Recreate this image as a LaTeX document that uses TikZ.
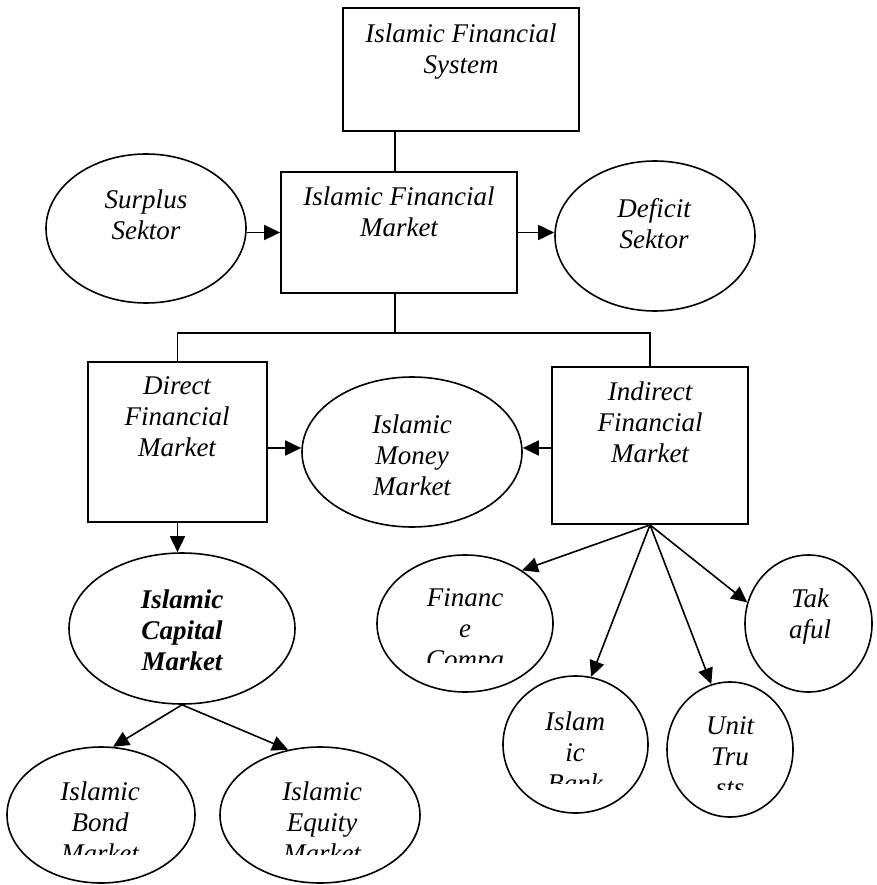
\documentclass[tikz,border=0pt]{standalone}
\usepackage{fontspec}
\setmainfont{Liberation Serif}
\usetikzlibrary{arrows.meta,shapes.geometric}
\begin{document}
\begin{tikzpicture}[x=1pt,y=-1pt,
  box/.style={draw, line width=1.8pt, rectangle, inner sep=0pt},
  ell/.style={draw, line width=1.6pt, ellipse, inner sep=0pt},
  txt/.style={anchor=north, inner sep=0pt, align=center, font=\fontsize{27}{31}\selectfont\itshape, execute at begin node=\strut},
  btxt/.style={txt, font=\fontsize{27}{31}\selectfont\bfseries\itshape},
  link/.style={line width=1.5pt},
  arr/.style={line width=1.6pt, -{Triangle[length=16pt,width=15pt]}}]
\useasboundingbox (0,0) rectangle (876,885);

% shapes
\node[box, minimum width=236pt, minimum height=123pt] (sys) at (461,69.5) {};
\node[box, minimum width=236pt, minimum height=121pt] (mkt) at (399,232.5) {};
\node[ell, minimum width=200pt, minimum height=149pt] (sur) at (146,228.5) {};
\node[ell, minimum width=200pt, minimum height=150pt] (def) at (655,236) {};
\node[box, minimum width=179pt, minimum height=160pt] (dir) at (177.5,442) {};
\node[box, minimum width=196pt, minimum height=157pt] (ind) at (650,445.5) {};
\node[ell, minimum width=220pt, minimum height=150pt] (mon) at (412,452) {};
\node[ell, minimum width=226pt, minimum height=151pt] (cap) at (182,628.5) {};
\node[ell, minimum width=188pt, minimum height=136pt] (bond) at (101,815) {};
\node[ell, minimum width=200pt, minimum height=136pt] (eq) at (320,815) {};
\node[ell, minimum width=176pt, minimum height=137pt] (fin) at (465,623.5) {};
\node[ell, minimum width=127pt, minimum height=137pt] (tak) at (808.5,623.5) {};
\node[ell, minimum width=145pt, minimum height=137pt] (bank) at (575.5,744.5) {};
\node[ell, minimum width=126pt, minimum height=135pt] (ut) at (730,749.5) {};

% texts
\node[txt] (syst) at (461,23.3) {Islamic Financial\\System};
\node[txt] (mktt) at (399,186.3) {Islamic Financial\\Market};
\node[txt] (surt) at (146,189.3) {Surplus\\Sektor};
\node[txt] (deft) at (654,198.3) {Deficit\\Sektor};
\node[txt] (dirt) at (177,376.3) {Direct\\Financial\\Market};
\node[txt] (indt) at (650,381.3) {Indirect\\Financial\\Market};
\node[txt] (mont) at (412,414.3) {Islamic\\Money\\Market};
\node[btxt] (capt) at (182,589.3) {Islamic\\Capital\\Market};
\node[txt] (takt) at (810,588.3) {Tak\\aful};
\begin{scope}
  \clip (377,555) rectangle (553,662);
  \node[txt] (fint) at (465,588.3) {Financ\\e\\Compa};
\end{scope}
\begin{scope}
  \clip (503,676) rectangle (648,783);
  \node[txt] (bankt) at (575,711.3) {Islam\\ic\\Bank};
\end{scope}
\begin{scope}
  \clip (667,682) rectangle (793,789);
  \node[txt] (utt) at (730,716.3) {Unit\\Tru\\sts};
\end{scope}
\begin{scope}
  \clip (7,747) rectangle (195,854);
  \node[txt] (bondt) at (100,781.3) {Islamic\\Bond\\Market};
\end{scope}
\begin{scope}
  \clip (220,747) rectangle (420,854);
  \node[txt] (eqt) at (322,781.3) {Islamic\\Equity\\Market};
\end{scope}

% connectors
\coordinate (j) at (395,333);
\draw[link] ([xshift=-4pt]mkt.north) -- ([xshift=-4pt]mkt.north |- sys.south);
\draw[link] ([xshift=-4pt]mkt.south) -- (j);
\draw[link] (dir.north) |- (j) -| (ind.north);
\draw[arr] (sur.east |- mkt.west) -- (mkt.west);
\draw[arr] (mkt.east) -- (def.west |- mkt.east);
\draw[arr] (dir.east |- 0,448) -- (mon.west |- 0,448);
\draw[arr] (ind.west |- 0,448) -- (mon.east |- 0,448);
\draw[arr] (dir.south) -- (dir.south |- cap.north);
\draw[arr] (cap.south) -- (bond.80);
\draw[arr] (cap.south) -- (eq.116);
\draw[arr] (ind.south) -- (fin.43);
\draw[arr] (ind.south) -- (bank.77);
\draw[arr] (ind.south) -- (ut.106);
\draw[arr] (ind.south) -- (tak.161);
\end{tikzpicture}
\end{document}
